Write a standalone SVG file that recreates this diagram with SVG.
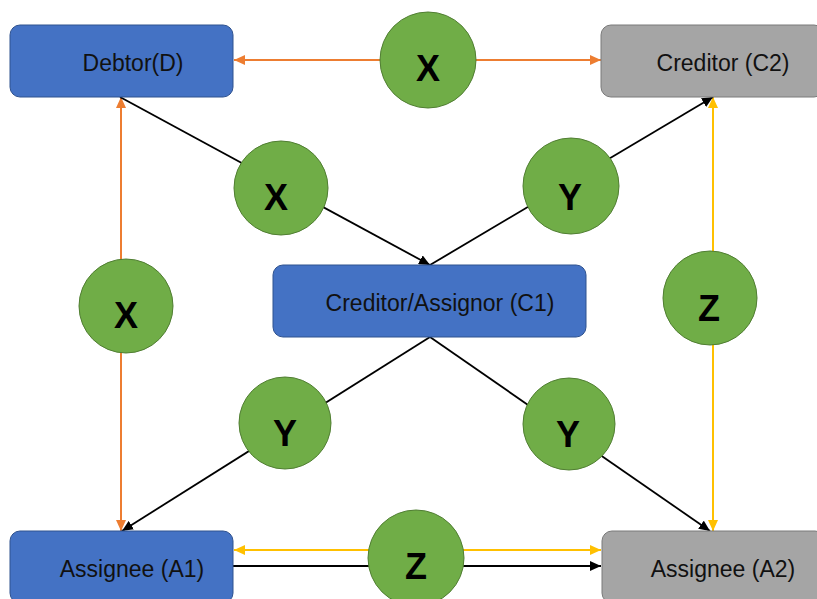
<svg xmlns="http://www.w3.org/2000/svg" width="817" height="599" viewBox="0 0 817 599">
<style>
.bg{fill:#ffffff}
.blue{fill:#4472C4;stroke:#2F528F;stroke-width:1}
.gray{fill:#A5A5A5;stroke:#7A7A7A;stroke-width:1}
.circ{fill:#70AD47;stroke:#507E32;stroke-width:1}
.nt{font-family:"Liberation Sans",Arial,sans-serif;font-size:23px;fill:#111111;text-anchor:middle}
.ct{font-family:"Liberation Sans",Arial,sans-serif;font-size:36px;font-weight:bold;fill:#000000;text-anchor:middle}
.or{stroke:#ED7D31;stroke-width:2;fill:none}
.ye{stroke:#FFC000;stroke-width:2;fill:none}
.bk{stroke:#000000;stroke-width:1.8;fill:none}
</style>
<defs>
<marker id="aO" markerUnits="userSpaceOnUse" markerWidth="12" markerHeight="10" refX="11" refY="5" orient="auto"><path d="M0,0 L11,5 L0,10 Z" fill="#ED7D31"/></marker>
<marker id="aY" markerUnits="userSpaceOnUse" markerWidth="12" markerHeight="10" refX="11" refY="5" orient="auto"><path d="M0,0 L11,5 L0,10 Z" fill="#FFC000"/></marker>
<marker id="aK" markerUnits="userSpaceOnUse" markerWidth="12" markerHeight="10" refX="11" refY="5" orient="auto"><path d="M0,0 L11,5 L0,10 Z" fill="#000000"/></marker>
</defs>
<rect class="bg" x="0" y="0" width="817" height="599"/>
<g id="connectors">
<line class="or" x1="428" y1="60" x2="234" y2="60" marker-end="url(#aO)"/>
<line class="or" x1="428" y1="60" x2="601" y2="60" marker-end="url(#aO)"/>
<line class="or" x1="121" y1="306" x2="121" y2="97" marker-end="url(#aO)"/>
<line class="or" x1="121" y1="306" x2="121" y2="531" marker-end="url(#aO)"/>
<line class="ye" x1="713" y1="298" x2="713" y2="97" marker-end="url(#aY)"/>
<line class="ye" x1="713" y1="298" x2="713" y2="531" marker-end="url(#aY)"/>
<line class="ye" x1="416" y1="550" x2="234" y2="550" marker-end="url(#aY)"/>
<line class="ye" x1="416" y1="550" x2="601" y2="550" marker-end="url(#aY)"/>
<line class="bk" x1="233" y1="566" x2="601" y2="566" marker-end="url(#aK)"/>
<line class="bk" x1="120" y1="97" x2="430" y2="265" marker-end="url(#aK)"/>
<line class="bk" x1="430" y1="265" x2="713" y2="97" marker-end="url(#aK)"/>
<line class="bk" x1="430" y1="337" x2="122" y2="531" marker-end="url(#aK)"/>
<line class="bk" x1="430" y1="337" x2="710" y2="531" marker-end="url(#aK)"/>
</g>
<g id="debtor"><rect class="blue" x="10" y="25" width="223" height="72" rx="10"/><text class="nt" x="133" y="71">Debtor(D)</text></g>
<g id="creditor-c2"><rect class="gray" x="601" y="25" width="223" height="72" rx="10"/><text class="nt" x="723" y="71">Creditor (C2)</text></g>
<g id="creditor-c1"><rect class="blue" x="273" y="265" width="313" height="72" rx="10"/><text class="nt" x="440" y="311">Creditor/Assignor (C1)</text></g>
<g id="assignee-a1"><rect class="blue" x="10" y="531" width="223" height="72" rx="10"/><text class="nt" x="132" y="577">Assignee (A1)</text></g>
<g id="assignee-a2"><rect class="gray" x="602" y="531" width="223" height="72" rx="10"/><text class="nt" x="723" y="577">Assignee (A2)</text></g>
<g id="x-top"><circle class="circ" cx="428" cy="60" r="48"/><text class="ct" x="428" y="81">X</text></g>
<g id="x-upper-left"><circle class="circ" cx="281" cy="188" r="47"/><text class="ct" x="276" y="210">X</text></g>
<g id="y-upper-right"><circle class="circ" cx="571" cy="186" r="48"/><text class="ct" x="570" y="210">Y</text></g>
<g id="x-left"><circle class="circ" cx="126" cy="306" r="47"/><text class="ct" x="126" y="328">X</text></g>
<g id="z-right"><circle class="circ" cx="710" cy="298" r="47"/><text class="ct" x="709" y="321">Z</text></g>
<g id="y-lower-left"><circle class="circ" cx="285" cy="423" r="46"/><text class="ct" x="285" y="446">Y</text></g>
<g id="y-lower-right"><circle class="circ" cx="569" cy="424" r="46"/><text class="ct" x="568" y="447">Y</text></g>
<g id="z-bottom"><circle class="circ" cx="416" cy="558" r="48"/><text class="ct" x="416" y="579">Z</text></g>
</svg>
